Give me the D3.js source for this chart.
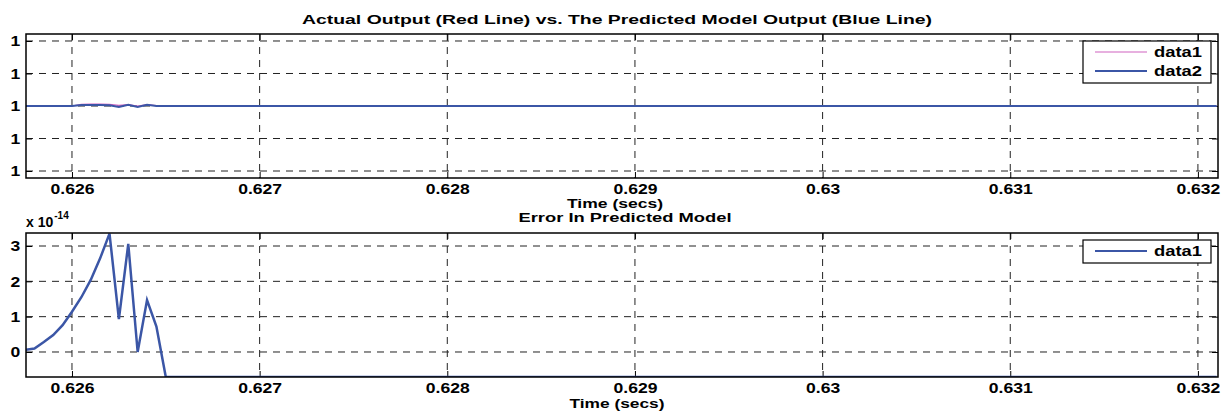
<!DOCTYPE html>
<html>
<head>
<meta charset="utf-8">
<script src="https://cdnjs.cloudflare.com/ajax/libs/d3/7.8.5/d3.min.js"></script>
<style>
  body { margin: 0; background: #fff; }
  text { font-family: "Liberation Sans", Arial, sans-serif; font-weight: bold; fill: #000; }
</style>
</head>
<body>
<div id="chart"></div>
<script>
// data
var times      = [0.62575, 0.6258, 0.62585, 0.6259, 0.62595, 0.626, 0.62605, 0.6261, 0.62615, 0.6262,
                  0.62625, 0.6263, 0.62635, 0.6264, 0.62645, 0.6265, 0.6321];
// top panel: deviation from 1 (all tick labels read "1")
var actual     = [0, 0, 0, 0, 0, 0, 0.05, 0.06, 0.06, 0.05, 0.02, 0.04, 0.0, 0.04, 0.01, 0, 0];
var predicted  = [0, 0, 0, 0, 0, 0, 0.03, 0.03, 0.03, 0.02, -0.03, 0.04, -0.03, 0.04, 0, 0, 0];
// bottom panel: error in units of 1e-14
var errorVals  = [0.06, 0.1, 0.28, 0.48, 0.76, 1.14, 1.55, 2.04, 2.65, 3.35,
                  0.93, 3.06, 0.0, 1.47, 0.72, -0.71, -0.71];

var xTicks      = [0.626, 0.627, 0.628, 0.629, 0.63, 0.631, 0.632];
var xTickLabels = ["0.626", "0.627", "0.628", "0.629", "0.63", "0.631", "0.632"];
var topYTicks   = [-2, -1, 0, 1, 2];
var topYLabels  = ["1", "1", "1", "1", "1"];
var botYTicks   = [0, 1, 2, 3];
var botYLabels  = ["0", "1", "2", "3"];

var W = 1227, H = 414;
var left = 26, right = 1218;
var blue = "#3b56a6", magenta = "#d062c0";

var svg = d3.select("#chart").append("svg")
    .attr("width", W)
    .attr("height", H);

var x = d3.scaleLinear().domain([0.625755, 0.632107]).range([left, right]);

function panel(id, top, bottom, y, yTicks, yLabels) {
    var g = svg.append("g");

    g.append("clipPath").attr("id", id)
      .append("rect")
        .attr("x", left).attr("y", top)
        .attr("width", right - left).attr("height", bottom - top);

    // grid
    g.selectAll(".vg").data(xTicks).enter().append("line")
        .attr("x1", function(d) { return x(d); })
        .attr("x2", function(d) { return x(d); })
        .attr("y1", top).attr("y2", bottom)
        .attr("stroke", "#222").attr("stroke-width", 1)
        .attr("stroke-dasharray", "7,6");
    g.selectAll(".hg").data(yTicks).enter().append("line")
        .attr("x1", left).attr("x2", right)
        .attr("y1", function(d) { return y(d); })
        .attr("y2", function(d) { return y(d); })
        .attr("stroke", "#222").attr("stroke-width", 1)
        .attr("stroke-dasharray", "7,6");

    // axes, ticks pointing inward
    var xb = g.append("g")
        .attr("transform", "translate(0," + bottom + ")")
        .call(d3.axisBottom(x).tickValues(xTicks)
            .tickFormat(function(d, i) { return xTickLabels[i]; })
            .tickSizeInner(-6).tickSizeOuter(0).tickPadding(5));
    g.append("g")
        .attr("transform", "translate(0," + top + ")")
        .call(d3.axisTop(x).tickValues(xTicks).tickFormat("")
            .tickSizeInner(-6).tickSizeOuter(0));
    var yl = g.append("g")
        .attr("transform", "translate(" + left + ",0)")
        .call(d3.axisLeft(y).tickValues(yTicks)
            .tickFormat(function(d, i) { return yLabels[i]; })
            .tickSizeInner(-6).tickSizeOuter(0).tickPadding(5));
    g.append("g")
        .attr("transform", "translate(" + right + ",0)")
        .call(d3.axisRight(y).tickValues(yTicks).tickFormat("")
            .tickSizeInner(-6).tickSizeOuter(0));

    g.selectAll(".domain").remove();
    g.selectAll(".tick line").attr("stroke", "#000").attr("stroke-width", 1);
    [xb, yl].forEach(function(a) {
        a.selectAll("text")
            .style("font-size", "15px")
            .style("font-family", "'Liberation Sans', Arial, sans-serif")
            .style("font-weight", "bold")
            .attr("fill", "#000")
            .attr("transform", "scale(1.17,1)");
    });

    return g;
}

function frame(g, top, bottom) {
    g.append("rect")
        .attr("x", left).attr("y", top)
        .attr("width", right - left).attr("height", bottom - top)
        .attr("fill", "none").attr("stroke", "#000").attr("stroke-width", 1.5);
}

function legend(g, x0, y0, w, items) {
    var h = items.length * 19 + 4;
    g.append("rect")
        .attr("x", x0).attr("y", y0).attr("width", w).attr("height", h)
        .attr("fill", "#fff").attr("stroke", "#000").attr("stroke-width", 1.2);
    items.forEach(function(it, i) {
        var cy = y0 + 11 + i * 19;
        g.append("line")
            .attr("x1", x0 + 12).attr("x2", x0 + 64)
            .attr("y1", cy).attr("y2", cy)
            .attr("stroke", it.color).attr("stroke-width", it.width);
        g.append("text")
            .attr("x", x0 + 71).attr("y", cy + 5)
            .attr("textLength", 48).attr("lengthAdjust", "spacingAndGlyphs")
            .style("font-size", "14px")
            .text(it.label);
    });
}

// ---- top panel
var top1 = 34, bot1 = 178;
var y1 = d3.scaleLinear().domain([-2.215, 2.215]).range([bot1, top1]);
var g1 = panel("clip1", top1, bot1, y1, topYTicks, topYLabels);

var line1 = d3.line().x(function(d, i) { return x(times[i]); }).y(function(d) { return y1(d); });
g1.append("path").datum(actual)
    .attr("d", line1).attr("fill", "none")
    .attr("stroke", magenta).attr("stroke-width", 1.2)
    .attr("clip-path", "url(#clip1)");
g1.append("path").datum(predicted)
    .attr("d", line1).attr("fill", "none")
    .attr("stroke", blue).attr("stroke-width", 2)
    .attr("clip-path", "url(#clip1)");
frame(g1, top1, bot1);
legend(g1, 1083, 41, 128, [
    {label: "data1", color: magenta, width: 1.2},
    {label: "data2", color: blue, width: 2}
]);

svg.append("text")
    .attr("x", 617).attr("y", 24)
    .attr("text-anchor", "middle")
    .attr("textLength", 630).attr("lengthAdjust", "spacingAndGlyphs")
    .style("font-size", "13px")
    .text("Actual Output (Red Line) vs. The Predicted Model Output (Blue Line)");
svg.append("text")
    .attr("x", 615).attr("y", 208)
    .attr("text-anchor", "middle")
    .attr("textLength", 96).attr("lengthAdjust", "spacingAndGlyphs")
    .style("font-size", "12.5px")
    .text("Time (secs)");

// ---- bottom panel
var top2 = 233, bot2 = 377;
var y2 = d3.scaleLinear().domain([-0.708, 3.368]).range([bot2, top2]);
var g2 = panel("clip2", top2, bot2, y2, botYTicks, botYLabels);

var line2 = d3.line().x(function(d, i) { return x(times[i]); }).y(function(d) { return y2(d); });
g2.append("path").datum(errorVals)
    .attr("d", line2).attr("fill", "none")
    .attr("stroke", blue).attr("stroke-width", 2.5)
    .attr("stroke-linejoin", "miter")
    .attr("clip-path", "url(#clip2)");
frame(g2, top2, bot2);
legend(g2, 1083, 240, 128, [
    {label: "data1", color: blue, width: 2}
]);

svg.append("text")
    .attr("x", 625).attr("y", 222)
    .attr("text-anchor", "middle")
    .attr("textLength", 213).attr("lengthAdjust", "spacingAndGlyphs")
    .style("font-size", "12.5px")
    .text("Error In Predicted Model");
svg.append("text")
    .attr("x", 617).attr("y", 408)
    .attr("text-anchor", "middle")
    .attr("textLength", 95).attr("lengthAdjust", "spacingAndGlyphs")
    .style("font-size", "13px")
    .text("Time (secs)");

// exponent label
var ex = svg.append("text")
    .attr("x", 26).attr("y", 227)
    .style("font-size", "14px");
ex.append("tspan").text("x 10");
ex.append("tspan")
    .attr("dy", -8).attr("dx", 1)
    .style("font-size", "10px")
    .text("-14");
</script>
</body>
</html>
